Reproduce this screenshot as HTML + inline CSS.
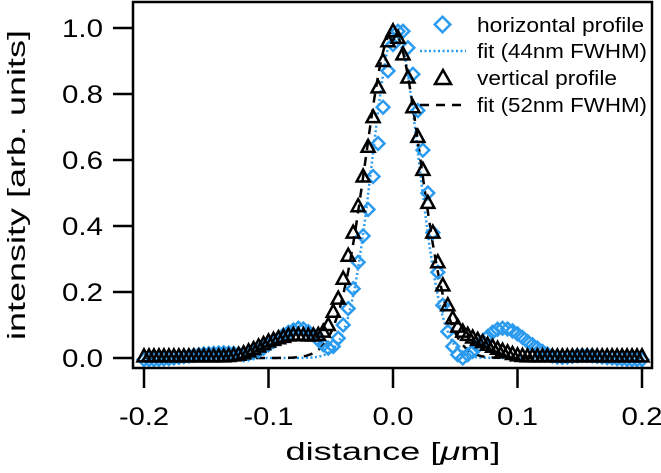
<!DOCTYPE html>
<html><head><meta charset="utf-8"><style>
html,body{margin:0;padding:0;background:#fff;}
svg text{font-family:"Liberation Sans","DejaVu Sans",sans-serif;fill:#000;}
</style></head><body>
<svg id="chart" width="661" height="468" viewBox="0 0 661 468" xmlns="http://www.w3.org/2000/svg">
<g id="fits"></g>
<g id="marks"></g>
<rect x="133" y="2" width="519" height="366" fill="none" stroke="#000" stroke-width="2.5"/>
<g id="axes"></g>
<text x="393" y="460" style="font-size:25px" text-anchor="middle" textLength="215" lengthAdjust="spacingAndGlyphs">distance [<tspan font-style="italic">μ</tspan>m]</text>
<text transform="translate(25,185) rotate(-90)" style="font-size:25px" text-anchor="middle" textLength="310" lengthAdjust="spacingAndGlyphs">intensity [arb. units]</text>
<g>
  <g>
    <rect x="437" y="19" width="11" height="11" transform="rotate(45 442.5 24.5)" fill="none" stroke="#2b9bf0" stroke-width="2.5"/>
    <text x="477" y="32" style="font-size:20px" textLength="167" lengthAdjust="spacingAndGlyphs">horizontal profile</text>
  </g>
  <g>
    <line x1="420" y1="51" x2="466" y2="51" stroke="#2b9bf0" stroke-width="2.5" stroke-dasharray="2,2.5"/>
    <text x="477" y="58" style="font-size:20px" textLength="170" lengthAdjust="spacingAndGlyphs">fit (44nm FWHM)</text>
  </g>
  <g>
    <polygon points="443,70 451,84 435,84" fill="none" stroke="#000" stroke-width="2.5"/>
    <text x="477" y="85" style="font-size:20px" textLength="140" lengthAdjust="spacingAndGlyphs">vertical profile</text>
  </g>
  <g>
    <line x1="420" y1="105" x2="466" y2="105" stroke="#000" stroke-width="2.5" stroke-dasharray="9,7"/>
    <text x="477" y="112" style="font-size:20px" textLength="170" lengthAdjust="spacingAndGlyphs">fit (52nm FWHM)</text>
  </g>
</g>
</svg>
<script>
const xStart = -0.2;
const xStep = 0.004;
const horizontalProfile = [
-0.005,-0.005,-0.005,-0.004,-0.003,-0.002,0,0.002,0.004,0.006,0.008,0.01,0.012,0.013,0.014,0.015,0.016,0.015,0.014,0.012,0.01,
0.012,0.016,0.022,0.03,0.04,0.05,0.06,0.07,0.078,0.085,0.09,0.088,0.08,0.07,0.055,0.04,0.03,0.035,0.06,0.10,
0.15,0.21,0.29,0.37,0.45,0.55,0.65,0.76,0.87,0.95,0.99,0.99,0.94,0.86,0.75,0.63,0.50,0.38,0.26,0.16,
0.08,0.035,0.01,0.0,0.01,0.02,0.035,0.05,0.065,0.078,0.087,0.09,0.088,0.082,0.073,0.062,0.05,0.04,0.03,0.02,
0.012,0.006,0.003,0.002,0.003,0.005,0.007,0.008,0.008,0.007,0.005,0.003,0.001,0,-0.002,-0.003,-0.004,-0.005,-0.005,-0.005];
const verticalProfile = [
0.005,0.005,0.005,0.005,0.005,0.005,0.005,0.005,0.005,0.005,0.005,0.005,0.005,0.005,0.005,0.005,0.005,0.006,0.008,0.01,0.014,
0.02,0.027,0.035,0.042,0.05,0.055,0.06,0.064,0.068,0.07,0.07,0.069,0.068,0.068,0.07,0.08,0.1,0.14,0.18,0.24,
0.31,0.38,0.46,0.55,0.64,0.73,0.82,0.90,0.96,0.99,0.97,0.92,0.85,0.76,0.67,0.57,0.47,0.38,0.29,0.22,
0.16,0.12,0.095,0.08,0.07,0.062,0.055,0.048,0.04,0.034,0.028,0.022,0.017,0.012,0.008,0.006,0.005,0.005,0.005,0.005,
0.005,0.005,0.005,0.005,0.005,0.005,0.005,0.005,0.005,0.005,0.005,0.005,0.005,0.005,0.005,0.005,0.005,0.005,0.005,0.005];
// Gaussian fit parameters: amplitude, center (µm), FWHM (µm)
const horizontalFit = [0.99, 0.002, 0.044];
const verticalFit = [0.99, 0.0, 0.052];
const xTicks = [-0.2, -0.1, 0.0, 0.1, 0.2];
const xTickLabels = ["-0.2", "-0.1", "0.0", "0.1", "0.2"];
const yTicks = [0, 0.2, 0.4, 0.6, 0.8, 1.0];
const yTickLabels = ["0.0", "0.2", "0.4", "0.6", "0.8", "1.0"];

const NS = "http://www.w3.org/2000/svg";
function X(v){ return 393 + v * 1245; }
function Y(v){ return 358 - v * 330; }
function mk(tag, attrs, parent){ const e = document.createElementNS(NS, tag); for (const k in attrs) e.setAttribute(k, attrs[k]); parent.appendChild(e); return e; }

const axes = document.getElementById('axes');
xTicks.forEach((t, i) => {
  const l = mk('line', {x1: X(t), x2: X(t), y1: 368, y2: 388, stroke: '#000', 'stroke-width': 2.5}, axes);
  
  
  const lbl = xTickLabels[i];
  const tx = mk('text', {x: X(t), y: 425, style: 'font-size:25px', 'text-anchor': 'middle', textLength: lbl.length > 3 ? 50 : 41, lengthAdjust: 'spacingAndGlyphs'}, axes);
  tx.textContent = lbl;
  
  
});
yTicks.forEach((t, i) => {
  const l = mk('line', {x1: 113, x2: 133, y1: Y(t), y2: Y(t), stroke: '#000', 'stroke-width': 2.5}, axes);
  
  
  const tx = mk('text', {x: 103, y: Y(t) + 9, style: 'font-size:25px', 'text-anchor': 'end', textLength: 41, lengthAdjust: 'spacingAndGlyphs'}, axes);
  tx.textContent = yTickLabels[i];
  
  
});

const fits = document.getElementById('fits');
function fitPath(p){
  const s = p[2] / 2.3548; let d = '';
  for (let x = -0.2; x <= 0.2001; x += 0.001) {
    const y = p[0] * Math.exp(-((x - p[1]) ** 2) / (2 * s * s));
    d += (d ? 'L' : 'M') + X(x).toFixed(1) + ',' + Y(y).toFixed(1);
  }
  return d;
}
const fh = mk('path', {d: fitPath(horizontalFit), fill: 'none', stroke: '#2b9bf0', 'stroke-width': 2.5, 'stroke-dasharray': '2,2.5'}, fits);


const fv = mk('path', {d: fitPath(verticalFit), fill: 'none', stroke: '#000', 'stroke-width': 2.5, 'stroke-dasharray': '9,7'}, fits);



const marks = document.getElementById('marks');
horizontalProfile.forEach((v, i) => {
  const cx = X(xStart + i * xStep), cy = Y(v);
  const r = mk('rect', {x: cx - 4.5, y: cy - 4.5, width: 9, height: 9, transform: `rotate(45 ${cx} ${cy})`, fill: 'none', stroke: '#2b9bf0', 'stroke-width': 2.5}, marks);
  
  
});
verticalProfile.forEach((v, i) => {
  const cx = X(xStart + i * xStep), cy = Y(v);
  const p = mk('polygon', {points: `${cx},${cy-7} ${cx+6.5},${cy+5} ${cx-6.5},${cy+5}`, fill: 'none', stroke: '#000', 'stroke-width': 2.5}, marks);
  
  
});
</script>
</body></html>
